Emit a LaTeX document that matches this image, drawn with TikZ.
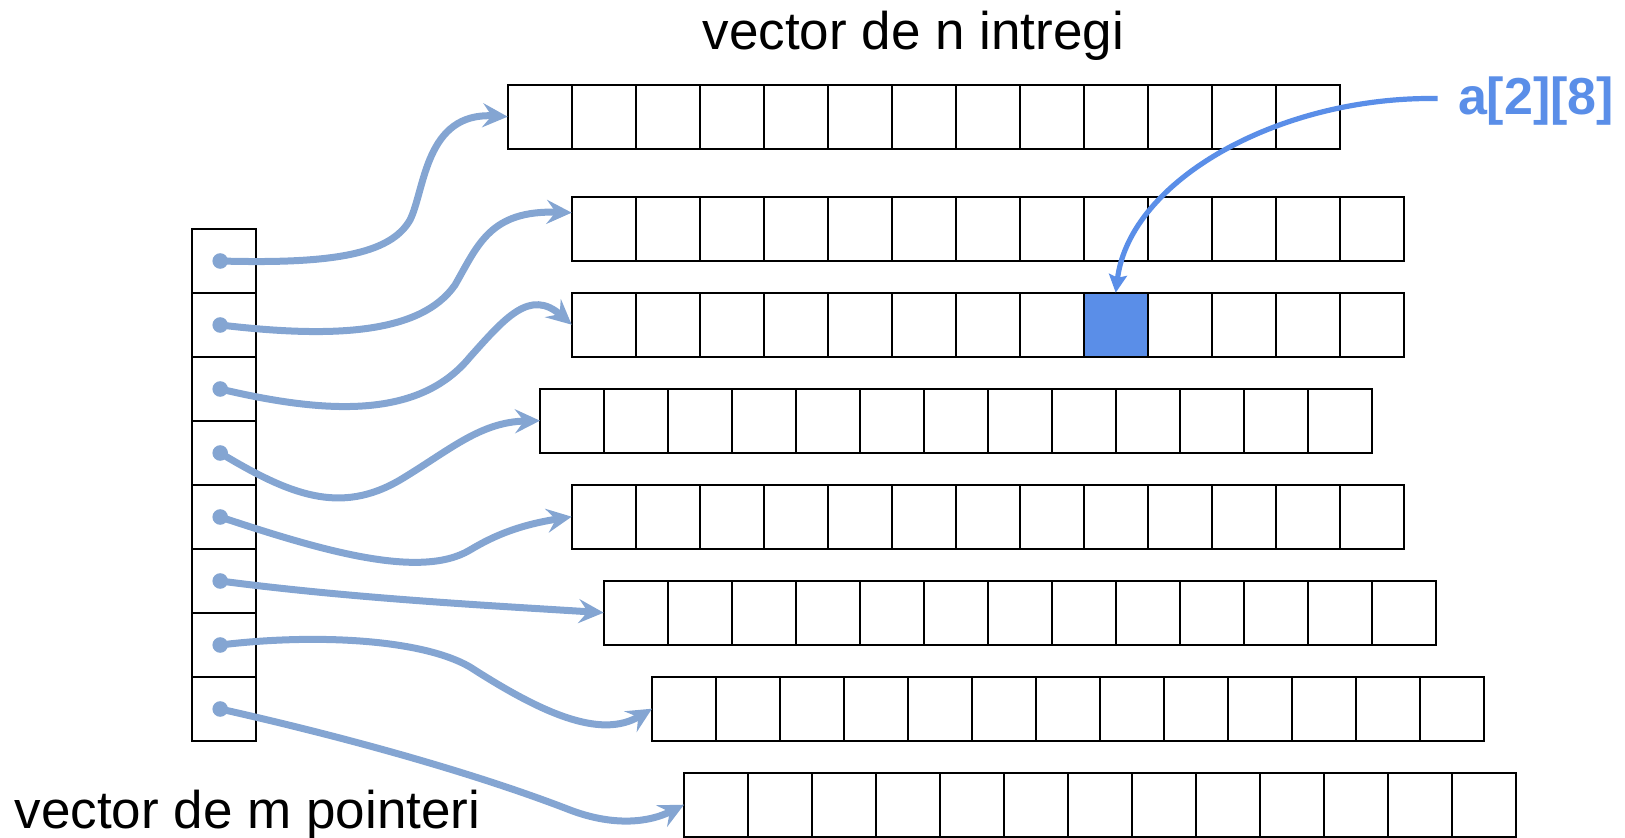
\documentclass[tikz,border=0pt]{standalone}
\usepackage{fontspec}
\setmainfont{Liberation Sans}
\usetikzlibrary{arrows.meta,calc}
\definecolor{ptr}{RGB}{132,165,210}
\definecolor{hl}{RGB}{90,142,232}
\tikzset{
  cell/.style={draw=black, line width=1pt, minimum width=32pt, minimum height=32pt,
               inner sep=0pt, outer sep=0pt},
  r2-8/.style={fill=hl},
  caption/.style={inner sep=0pt, anchor=base, font=\fontsize{26.5pt}{30pt}\selectfont},
  link/.style={draw=ptr, line width=3.5pt,
               -{Stealth[length=12.5pt,width=12pt,inset=4.5pt]}},
  dot/.style={fill=ptr},
  pick/.style={draw=hl, line width=2.6pt,
               -{Stealth[length=9pt,width=9pt,inset=1.5pt]}},
}
\begin{document}
\begin{tikzpicture}[x=0.5pt,y=-0.5pt]
\useasboundingbox (0,0) rectangle (1625,838);

% column of m pointers
\foreach \i in {0,...,7} {
  \node[cell] (p\i) at (223.7,{261+64*\i}) {};
  \coordinate (d\i) at ($(p\i.center)+(-3.5,0)$);
}

% the m vectors of n integers (left edge / top edge)
\foreach \i/\x/\y in {0/507.7/84.7, 1/571.7/196.7, 2/571.7/292.7, 3/540/388.7,
                      4/571.7/484.7, 5/603.7/580.7, 6/652/676.7, 7/684/772.7} {
  \foreach \j in {0,...,12} {
    \node[cell, r\i-\j/.try] (r\i-\j) at ({\x+32+64*\j},{\y+32}) {};
  }
}

% labels
\node[caption] (title) at (913.3,49.3) {vector de n intregi};
\node[caption] (ptrs) at (247.5,828.3) {vector de m pointeri};
\node[caption, text=hl, font=\bfseries\fontsize{26pt}{30pt}\selectfont]
  (elem) at (1536,115) {a[2][8]};

% pointers to the rows
\foreach \i in {0,...,7} { \fill[dot] (d\i) circle[radius=3.9pt]; }
\draw[link] (d0) .. controls (330,264) and (390,255) .. (410,220)
                 .. controls (425,190) and (425,112) .. (r0-0.west);
\draw[link] (d1) .. controls (330,338) and (420,335) .. (455,285)
                 .. controls (478,245) and (490,210) .. ($(r1-0.west)+(0,-16)$);
\draw[link] (d2) .. controls (330,415) and (420,418) .. (470,357)
                 .. controls (505,318) and (530,288) .. (r2-0.west);
\draw[link] (d3) .. controls (290,495) and (340,515) .. (400,480)
                 .. controls (450,450) and (480,422) .. (r3-0.west);
\draw[link] (d4) .. controls (320,550) and (420,580) .. (470,550)
                 .. controls (495,535) and (520,525) .. (r4-0.west);
\draw[link] (d5) .. controls (350,598) and (480,605) .. (r5-0.west);
\draw[link] (d6) .. controls (310,634) and (420,638) .. (470,667)
                 .. controls (540,712) and (600,740) .. (r6-0.west);
\draw[link] (d7) .. controls (350,738) and (480,775) .. (570,810)
                 .. controls (615,827) and (650,822) .. (r7-0.west);

% element a[2][8]
\coordinate (src) at ($(elem.west)+(-20,-3)$);
\draw[pick] (src) .. controls (1280,96) and (1130,180) .. (r2-8.north);
\end{tikzpicture}
\end{document}
